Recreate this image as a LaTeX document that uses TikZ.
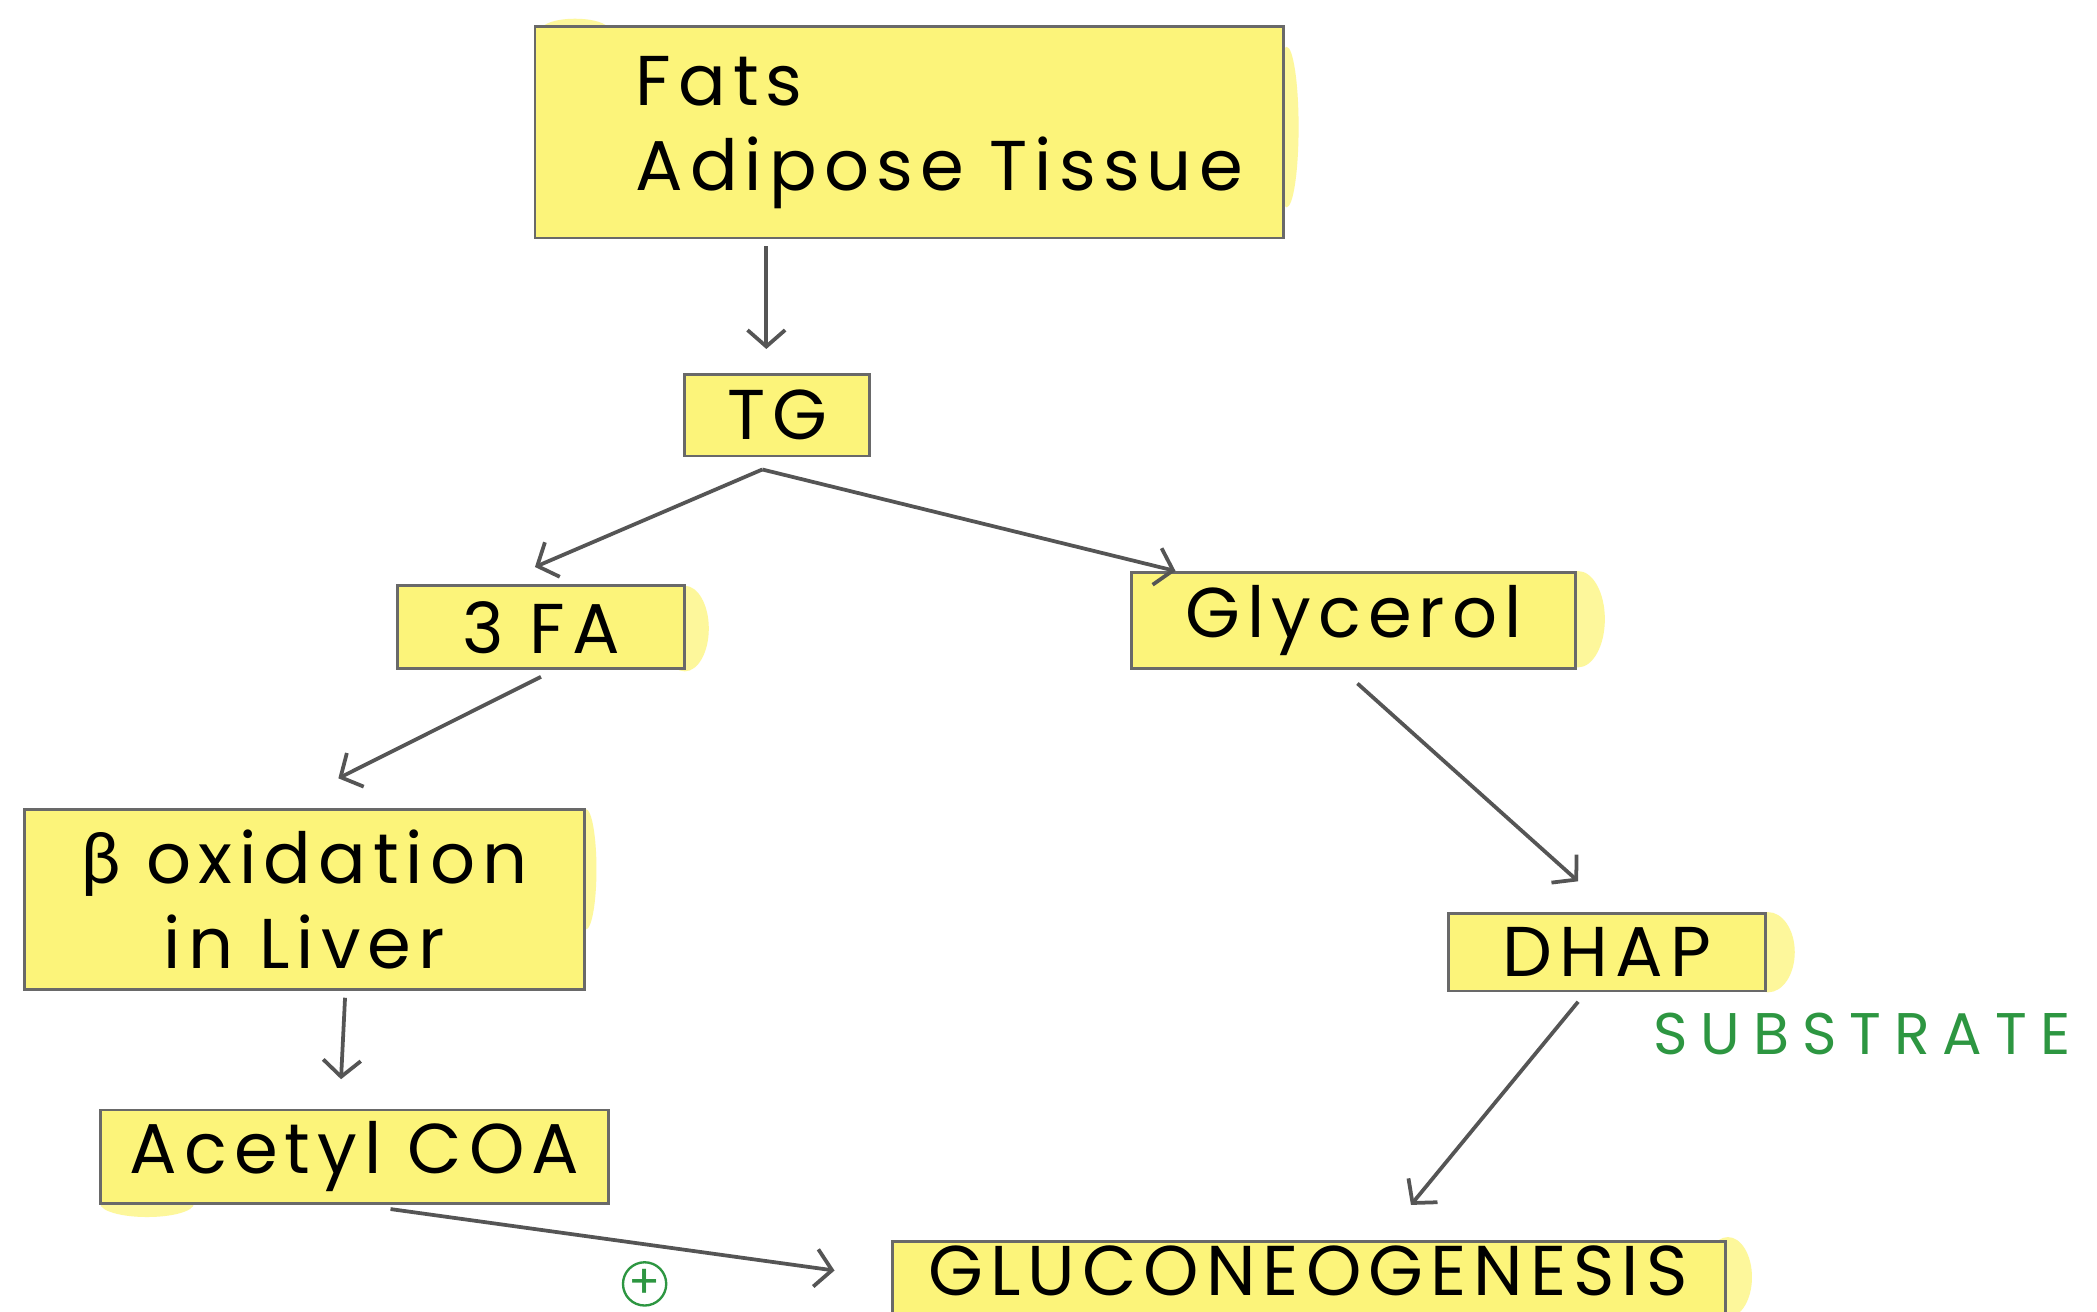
\documentclass[tikz,border=0pt]{standalone}
\usepackage{fontspec}
\setmainfont{Poppins}[LetterSpace=10]
\newfontfamily\grk{Lato}
\newfontfamily\subfont{Poppins}[LetterSpace=22]
\usetikzlibrary{arrows.meta,calc}
\definecolor{hl}{RGB}{252,244,122}
\definecolor{boxline}{RGB}{105,105,105}
\definecolor{arrc}{RGB}{85,85,85}
\definecolor{grn}{RGB}{45,150,65}
\begin{document}
\begin{tikzpicture}[x=0.02cm,y=-0.02cm,
  box/.style={draw=boxline, fill=hl, line width=1.2pt, inner sep=0pt},
  glow/.style={fill=hl!75},
  arr/.style={draw=arrc, line width=1.6pt, -{Straight Barb[length=7pt,width=16pt]}},
  lbl/.style={font=\fontsize{30}{36}\selectfont, text=black, inner sep=0pt}]
\useasboundingbox (0,0) rectangle (1568,981);
\clip (0,0) rectangle (1568,981);
\fill[white] (0,0) rectangle (1568,981);

% highlighter bleed
\fill[glow] (512,470) ellipse [x radius=18, y radius=32];
\fill[glow] (1180,463) ellipse [x radius=20, y radius=36];
\fill[glow] (1322,712) ellipse [x radius=20, y radius=30];
\fill[glow] (1292,955) ellipse [x radius=18, y radius=30];
\fill[glow] (962,95) ellipse [x radius=9, y radius=60];
\fill[glow] (430,22) ellipse [x radius=25, y radius=8];
\fill[glow] (110,900) ellipse [x radius=35, y radius=10];
\fill[glow] (438,650) ellipse [x radius=8, y radius=45];

% boxes
\node[box, minimum width=11.2cm, minimum height=3.16cm] (fats) at (680,99) {};
\node[lbl, anchor=west, align=left] (fatstxt) at (475,99) {Fats\\Adipose Tissue};
\node[box, lbl, minimum width=2.76cm, minimum height=1.22cm] (tg) at (581,310.5) {TG};
\node[box, lbl, minimum width=4.3cm, minimum height=1.24cm] (fa) at (404.5,469) {3 FA};
\node[box, lbl, minimum width=6.64cm, minimum height=1.44cm] (gly) at (1012,464) {Glycerol};
\node[box, lbl, minimum width=8.38cm, minimum height=2.7cm, align=center] (beta) at (227.5,672.5) {{\grk β} oxidation\\in Liver};
\node[box, lbl, minimum width=4.74cm, minimum height=1.16cm] (dhap) at (1201.5,712) {DHAP};
\node[box, lbl, minimum width=7.6cm, minimum height=1.4cm] (acetyl) at (265,865) {Acetyl COA};
\node[box, minimum width=12.46cm, minimum height=1.34cm] (gluco) at (978.5,961.5) {};
\node[lbl, anchor=center] (glucotxt) at (978,950) {GLUCONEOGENESIS};

% labels
\node[font=\subfont\fontsize{25}{28}\selectfont, text=grn, inner sep=0pt] (sub) at (1392,773) {SUBSTRATE};
\node[circle, draw=grn, line width=1pt, minimum size=0.64cm, inner sep=0pt, text=grn, font=\fontsize{20}{20}\selectfont] (plus) at (482,960) {+};

% arrows
\draw[arr] ($(fats.south)+(-107,5)$) -- ($(tg.north)+(-8,-18)$);
\draw[arr] ($(tg.south)+(-11,9)$) -- ($(fa.north)+(-4.5,-13)$);
\draw[arr] ($(tg.south)+(-11,9)$) -- ($(gly.north west)+(34,0)$);
\draw[arr] ($(fa.south)+(0,5)$) -- ($(beta.north)+(25.5,-22)$);
\draw[arr] ($(beta.south)+(30.5,5)$) -- ($(acetyl.north)+(-10,-22)$);
\draw[arr] ($(acetyl.south)+(27,3)$) -- ($(gluco.west)+(-42,-11.5)$);
\draw[arr] ($(gly.south)+(3,10)$) -- ($(dhap.north)+(-21.5,-23)$);
\draw[arr] ($(dhap.south)+(-21.5,7)$) -- ($(gluco.north)+(76.5,-26)$);
\end{tikzpicture}
\end{document}
